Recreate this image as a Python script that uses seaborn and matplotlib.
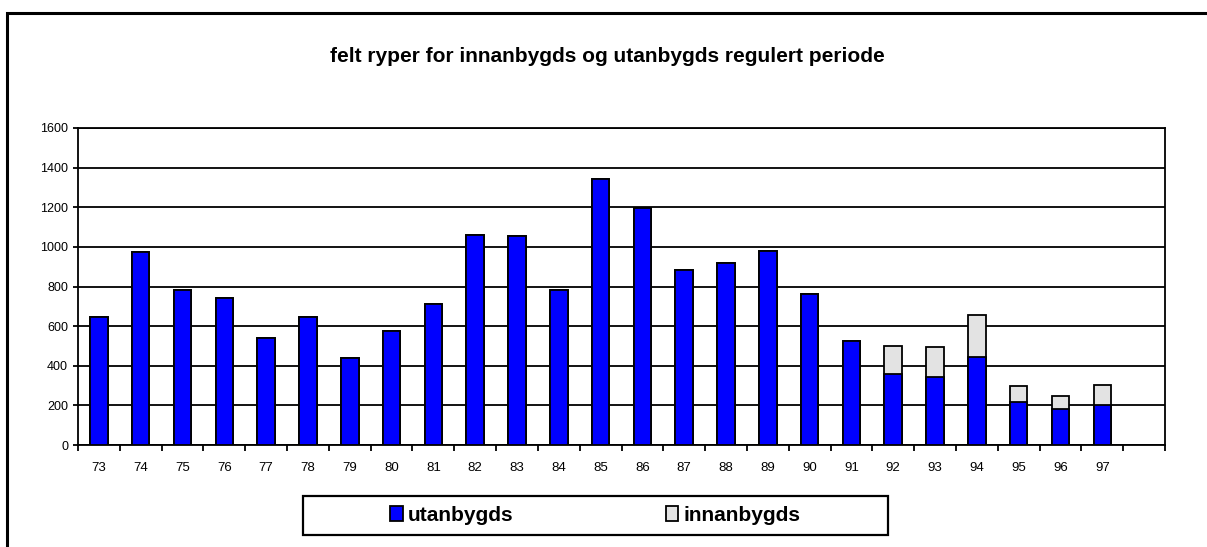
import numpy as np
import pandas as pd
import matplotlib
matplotlib.use("Agg")
import matplotlib.pyplot as plt
from matplotlib.patches import Rectangle, Patch
import seaborn as sns

# data
years = ["73", "74", "75", "76", "77", "78", "79", "80", "81", "82", "83", "84", "85",
         "86", "87", "88", "89", "90", "91", "92", "93", "94", "95", "96", "97"]
utanbygds = [648, 972, 783, 741, 542, 648, 440, 576, 714, 1061, 1053, 780, 1345,
             1195, 884, 918, 980, 761, 525, 359, 342, 443, 219, 180, 202]
innanbygds = [0, 0, 0, 0, 0, 0, 0, 0, 0, 0, 0, 0, 0,
              0, 0, 0, 0, 0, 0, 143, 151, 214, 77, 67, 101]
y_ticks = [0, 200, 400, 600, 800, 1000, 1200, 1400, 1600]

title = "felt ryper for innanbygds og utanbygds regulert periode"
blue = "#0000FF"
grey = "#E3E3E3"

df = pd.DataFrame({"year": years, "utanbygds": utanbygds, "innanbygds": innanbygds})
df["total"] = df["utanbygds"] + df["innanbygds"]

sns.set_style("white")
plt.rcParams["font.family"] = ["Liberation Sans", "DejaVu Sans"]
plt.rcParams["text.color"] = "black"
plt.rcParams["xtick.labelcolor"] = "black"
plt.rcParams["ytick.labelcolor"] = "black"

fig = plt.figure(figsize=(12.07, 5.47), dpi=100)
ax = fig.add_axes([78 / 1207, 1 - 445 / 547, (1165 - 78) / 1207, (445 - 128) / 547])

# stacked bars: grey total first, blue part over it
sns.barplot(data=df, x="year", y="total", order=years, color=grey, saturation=1,
            edgecolor="black", linewidth=1.3, width=0.42, errorbar=None, ax=ax, zorder=3)
sns.barplot(data=df, x="year", y="utanbygds", order=years, color=blue, saturation=1,
            edgecolor="black", linewidth=1.3, width=0.42, errorbar=None, ax=ax, zorder=4)

ax.set_xlim(-0.5, len(years) + 0.5)
ax.set_ylim(0, 1600)
ax.set_yticks(y_ticks)
ax.set_yticklabels([str(v) for v in y_ticks], fontsize=9)
ax.set_xticks(range(len(years)))
ax.set_xticklabels(years, fontsize=9.5)
ax.set_xticks(np.arange(len(years) + 2) - 0.5, minor=True)
ax.tick_params(axis="x", which="major", bottom=False, pad=9, labelcolor="black")
ax.tick_params(axis="x", which="minor", bottom=True, length=4.3, width=1.3,
               color="black", direction="out")
ax.tick_params(axis="y", left=True, length=3.6, width=1.3, color="black",
               direction="out", pad=3.5, labelcolor="black")
ax.set_xlabel("")
ax.set_ylabel("")

ax.yaxis.grid(True, color="black", linewidth=1.3, zorder=0)
ax.set_axisbelow(True)
for s in ax.spines.values():
    s.set_color("black")
    s.set_linewidth(1.3)
    s.set_visible(True)

fig.text(607 / 1207, 1 - 57 / 547, title, ha="center", va="center",
         fontsize=15, fontweight="bold", color="black")

# legend
handles = [Patch(facecolor=blue, edgecolor="black", linewidth=1.3),
           Patch(facecolor=grey, edgecolor="black", linewidth=1.3)]
leg = fig.legend(handles, ["utanbygds", "innanbygds"], loc="center",
                 bbox_to_anchor=(595.5 / 1207, 1 - 515.5 / 547), ncol=2, frameon=False,
                 prop={"weight": "bold", "size": 15}, handlelength=0.6, handleheight=0.7,
                 handletextpad=0.25, columnspacing=7.3)
for t in leg.get_texts():
    t.set_color("black")
fig.patches.append(Rectangle((303 / 1207, 1 - 535 / 547), (888 - 303) / 1207, 39 / 547,
                             transform=fig.transFigure, fill=False, edgecolor="black",
                             linewidth=1.6))

# outer chart frame
fig.patches.append(Rectangle((7 / 1207, -0.1), 1.2, 1 - 13 / 547 + 0.1,
                             transform=fig.transFigure, fill=False, edgecolor="black",
                             linewidth=2.2))

fig.savefig("out.png", dpi=100)
